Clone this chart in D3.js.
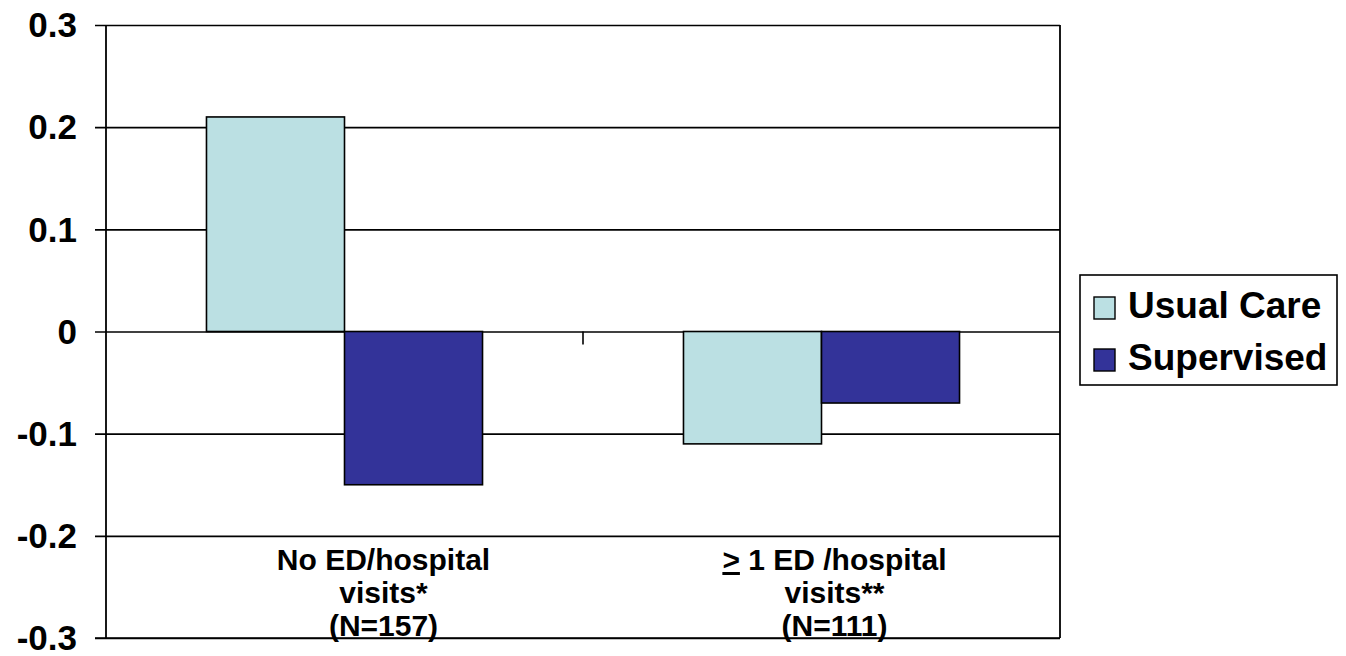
<!DOCTYPE html>
<html>
<head>
<meta charset="utf-8">
<script src="https://cdn.jsdelivr.net/npm/d3@7"></script>
<style>
  html, body { margin: 0; padding: 0; background: #fff; }
  svg { display: block; font-family: "Liberation Sans", Arial, Helvetica, sans-serif; font-weight: bold; }
</style>
</head>
<body>
<svg id="chart" width="1346" height="656"></svg>
<script>
// Change in score by ED/hospital visit group
const categories = ["No ED/hospital visits", ">= 1 ED/hospital visits"];
const categoryLines = [
  [["No ED/hospital"], ["visits*"], ["(N=157)"]],
  [[">", " 1 ED /hospital"], ["visits**"], ["(N=111)"]]
];
const seriesNames = ["Usual Care", "Supervised"];
const usualCare = [0.21, -0.11];
const supervised = [-0.15, -0.07];
const yTicks = [0.3, 0.2, 0.1, 0, -0.1, -0.2, -0.3];
const yTickLabels = ["0.3", "0.2", "0.1", "0", "-0.1", "-0.2", "-0.3"];

const colors = { "Usual Care": "#BBE0E3", "Supervised": "#333399" };

const svg = d3.select("#chart");
const plot = { left: 106, right: 1060, top: 25, bottom: 638 };

const y = d3.scaleLinear().domain([-0.3, 0.3]).range([plot.bottom, plot.top]);
const x0 = d3.scaleBand().domain(categories).range([plot.left, plot.right]).paddingInner(0).paddingOuter(0);
const x1 = d3.scaleBand().domain(seriesNames).range([0, x0.bandwidth()]).paddingInner(0).paddingOuter(0.728);

const seriesValues = { "Usual Care": usualCare, "Supervised": supervised };

// horizontal gridlines with left tick marks
const yAxis = d3.axisLeft(y).tickValues(yTicks).tickSize(-(plot.right - plot.left)).tickFormat("");
const gy = svg.append("g").attr("transform", `translate(${plot.left},0)`).call(yAxis);
gy.select(".domain").remove();
gy.selectAll(".tick line").attr("stroke", "#000").attr("stroke-width", 1.6)
  .attr("x1", -11);

// y tick labels
svg.append("g").selectAll("text").data(yTicks).join("text")
  .attr("x", 77).attr("y", d => y(d)).attr("dy", "0.35em")
  .attr("text-anchor", "end").attr("font-size", 35).attr("fill", "#000")
  .text((d, i) => yTickLabels[i]);

// bars
const groups = svg.append("g").selectAll("g").data(categories).join("g")
  .attr("transform", d => `translate(${x0(d)},0)`);
groups.selectAll("rect")
  .data((c, ci) => seriesNames.map(s => ({ s, v: seriesValues[s][ci] })))
  .join("rect")
  .attr("x", d => x1(d.s))
  .attr("width", x1.bandwidth())
  .attr("y", d => y(Math.max(0, d.v)))
  .attr("height", d => Math.abs(y(d.v) - y(0)))
  .attr("fill", d => colors[d.s])
  .attr("stroke", "#000").attr("stroke-width", 1.6);

// left axis line and right border
svg.append("line").attr("x1", plot.left).attr("x2", plot.left)
  .attr("y1", plot.top).attr("y2", plot.bottom).attr("stroke", "#000").attr("stroke-width", 1.8);
svg.append("line").attr("x1", plot.right).attr("x2", plot.right)
  .attr("y1", plot.top).attr("y2", plot.bottom).attr("stroke", "#000").attr("stroke-width", 1.8);

// boundary tick mark between categories on the zero line
svg.append("g").selectAll("line").data(categories.slice(1)).join("line")
  .attr("x1", d => x0(d)).attr("x2", d => x0(d))
  .attr("y1", y(0)).attr("y2", y(0) + 13)
  .attr("stroke", "#000").attr("stroke-width", 1.6);

// category labels (three lines each, set off to the right of the band centre)
const baselines = [570, 603, 636];
const labelShift = [39, 13];
const labels = svg.append("g").selectAll("text.cat")
  .data(categories).join("text")
  .attr("class", "cat")
  .attr("text-anchor", "middle").attr("font-size", 30).attr("fill", "#000");
labels.each(function (c, ci) {
  const t = d3.select(this);
  const cx = x0(c) + x0.bandwidth() / 2 + labelShift[ci];
  categoryLines[ci].forEach((parts, li) => {
    parts.forEach((p, pi) => {
      const ts = t.append("tspan").text(p);
      if (pi === 0) ts.attr("x", cx).attr("y", baselines[li]);
      if (p === ">") ts.attr("text-decoration", "underline");
    });
  });
});

// bottom gridline redrawn over labels
svg.append("line").attr("x1", plot.left - 11).attr("x2", plot.right)
  .attr("y1", plot.bottom).attr("y2", plot.bottom).attr("stroke", "#000").attr("stroke-width", 1.6);

// legend
const legend = svg.append("g");
legend.append("rect").attr("x", 1080).attr("y", 275).attr("width", 257).attr("height", 110)
  .attr("fill", "#fff").attr("stroke", "#000").attr("stroke-width", 1.6);
const items = legend.selectAll("g").data(seriesNames).join("g")
  .attr("transform", (d, i) => `translate(1094,${297 + i * 52})`);
items.append("rect").attr("width", 21).attr("height", 22)
  .attr("fill", d => colors[d]).attr("stroke", "#000").attr("stroke-width", 1.4);
items.append("text").attr("x", 34).attr("y", 21)
  .attr("font-size", 37).attr("fill", "#000").text(d => d);
</script>
</body>
</html>
